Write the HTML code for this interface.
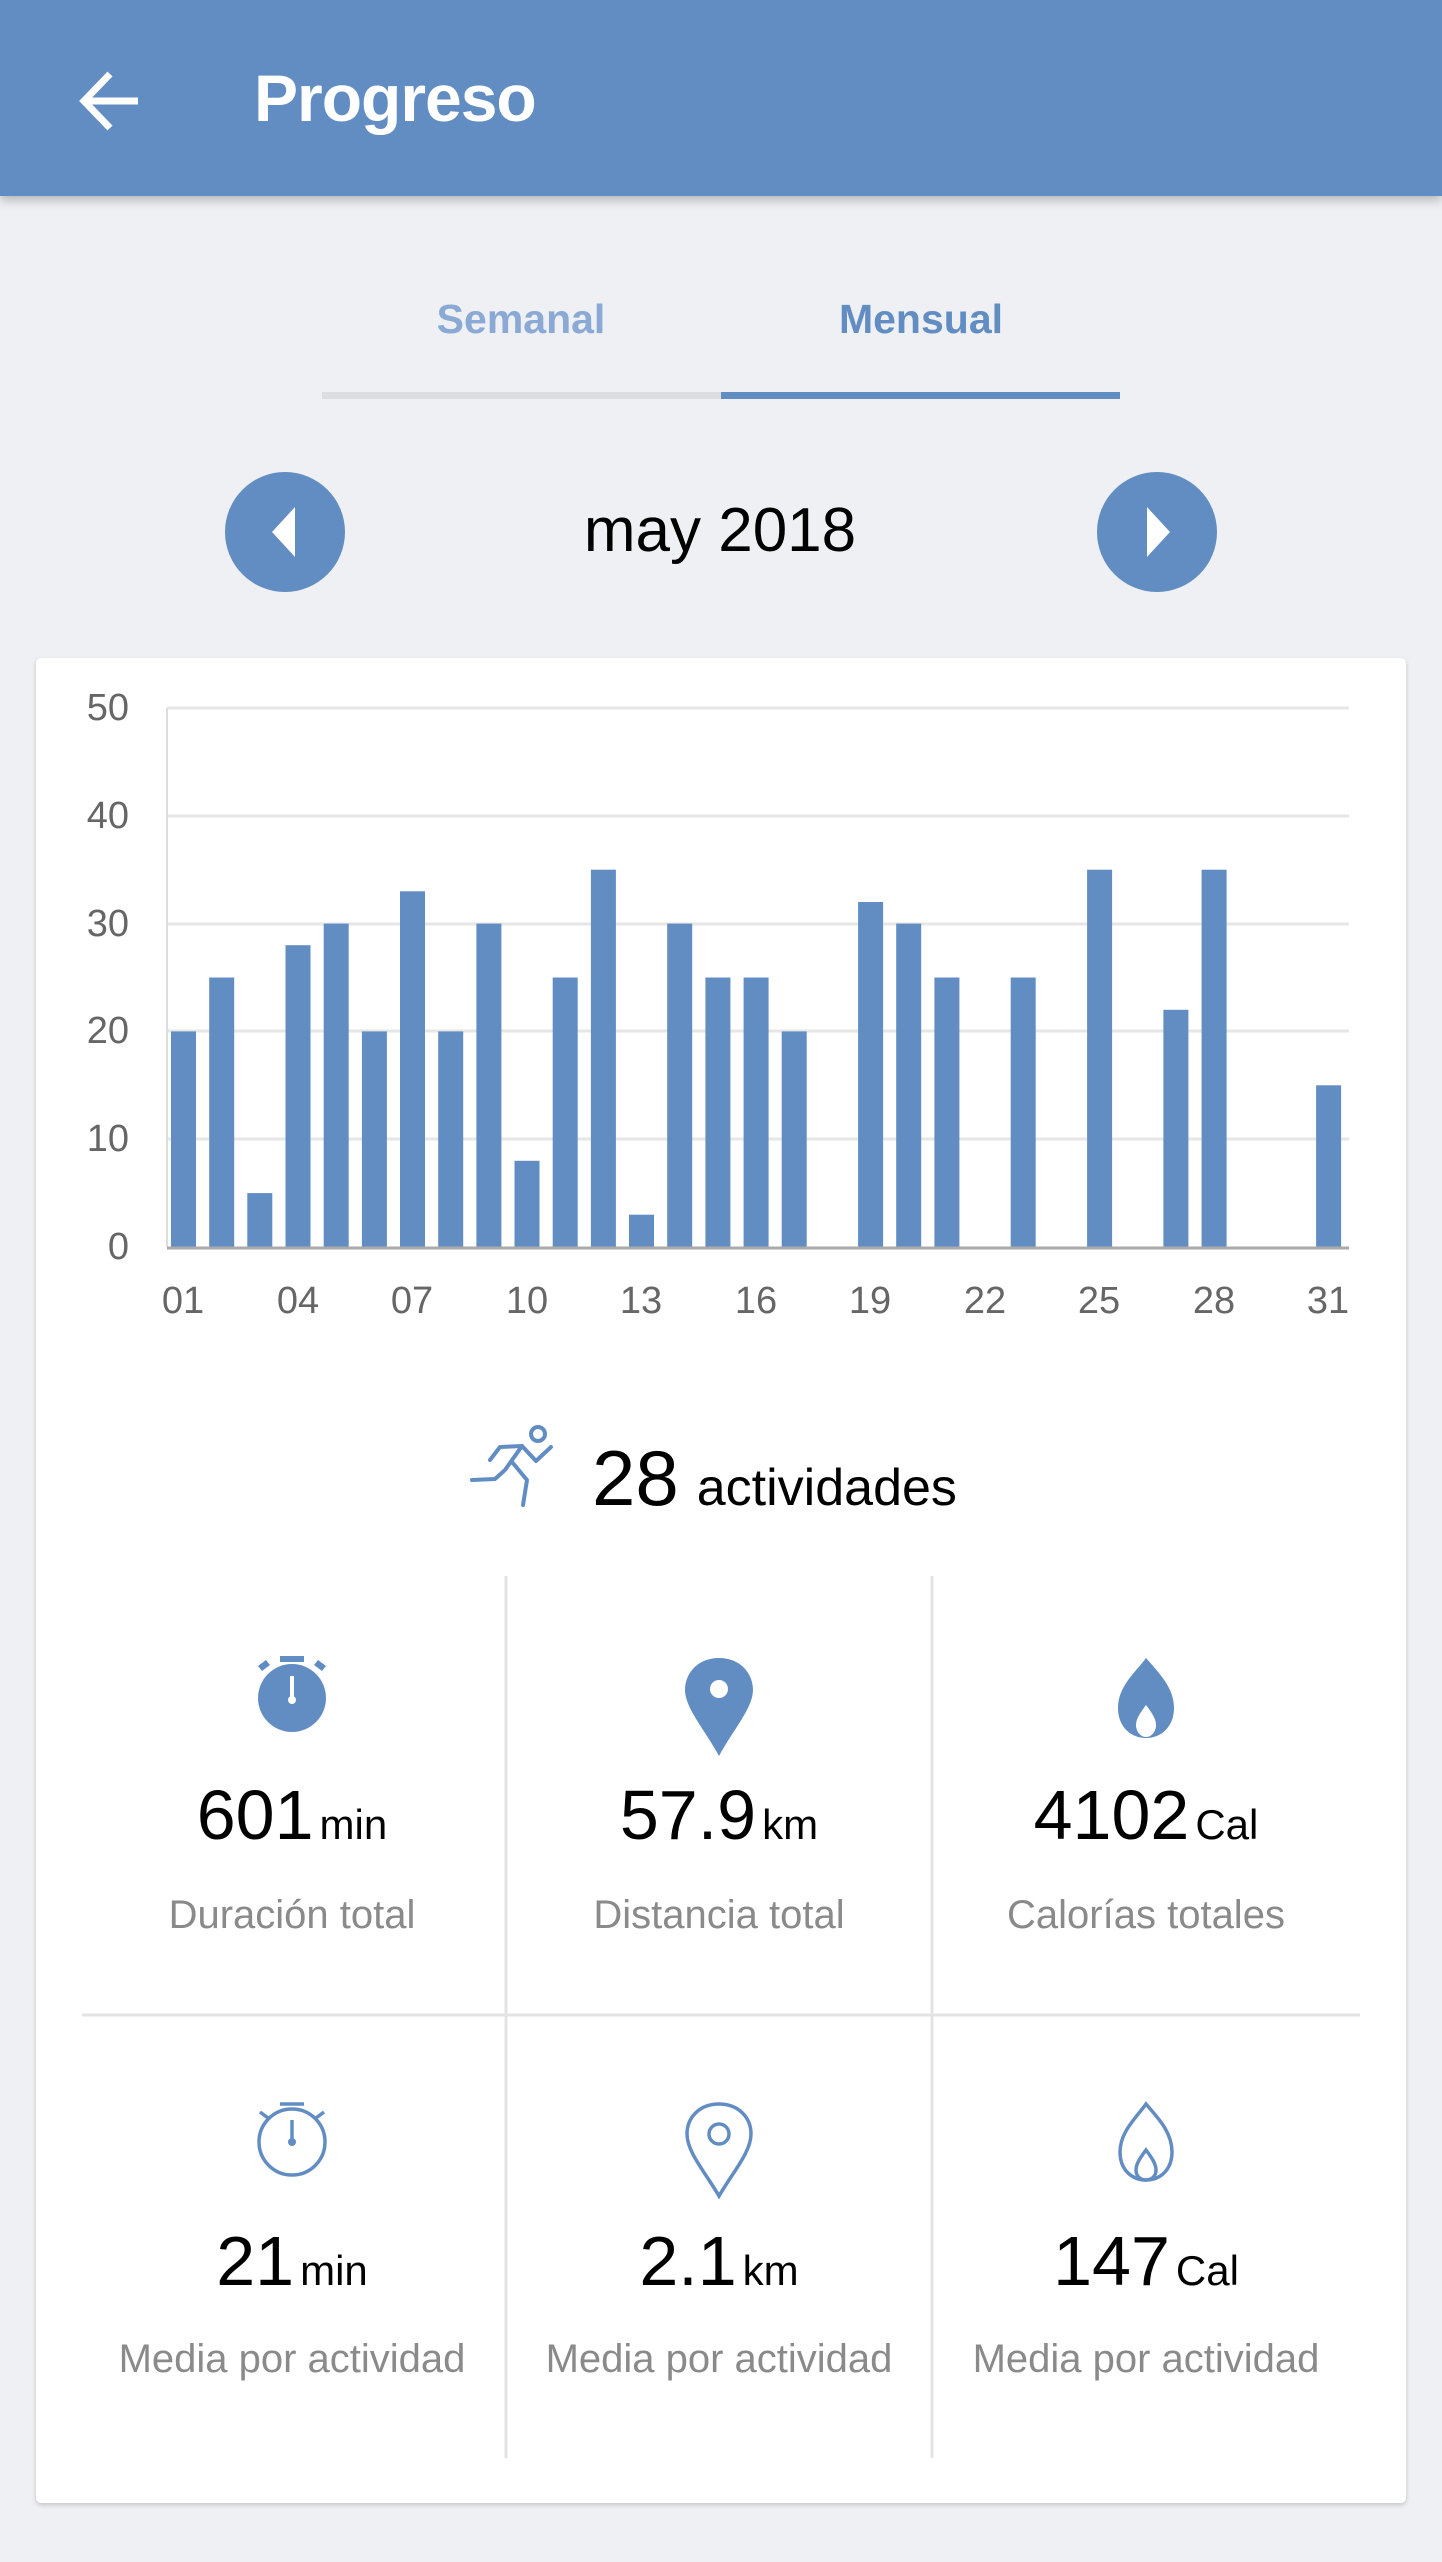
<!DOCTYPE html>
<html><head><meta charset="utf-8"><style>
body{margin:0;width:1442px;height:2562px;background:#eef0f3;position:relative;overflow:hidden;font-family:"Liberation Sans",sans-serif}
.a{position:absolute}
.hdr{left:0;top:0;width:1442px;height:196px;background:#628dc3;box-shadow:0 4px 10px rgba(0,0,0,.25)}
.card{left:36px;top:658px;width:1370px;height:1845px;background:#fff;border-radius:5px;box-shadow:0 2px 5px rgba(0,0,0,.18)}
.c{text-align:center;white-space:nowrap}
.val{font-size:70px;color:#000;line-height:1}
.val span{font-size:42px;margin-left:6px}
.lbl{font-size:40px;color:#8a8a8a;line-height:1}
</style></head><body>
<div class="a hdr"></div>
<svg class="a" style="left:0;top:0" width="1442" height="2562">
<path d="M84 101 H138 M110 74 L84 101 L110 128" stroke="#fff" stroke-width="7" fill="none"/>
<rect x="322" y="392" width="399" height="7" fill="#dcdde0"/>
<rect x="721" y="392" width="399" height="7" fill="#628dc3"/>
<circle cx="285" cy="532" r="60" fill="#628dc3"/><path d="M295 507 L272 532 L295 557Z" fill="#fff"/>
<circle cx="1157" cy="532" r="60" fill="#628dc3"/><path d="M1147 507 L1170 532 L1147 557Z" fill="#fff"/>
</svg>
<div class="a" style="left:254px;top:60px;font-size:66px;color:#fff;font-weight:bold;letter-spacing:-1px">Progreso</div>
<div class="a c" style="left:421px;width:200px;top:296px;font-size:41px;color:#8aa9d4;font-weight:bold">Semanal</div>
<div class="a c" style="left:821px;width:200px;top:296px;font-size:41px;color:#628dc3;font-weight:bold">Mensual</div>
<div class="a c" style="left:520px;width:400px;top:495px;font-size:62px;color:#000">may 2018</div>
<div class="a card"></div>
<svg class="a" style="left:0;top:0" width="1442" height="2562" font-family="Liberation Sans, sans-serif">
<g stroke="#e6e6e6" stroke-width="3">
<line x1="167" y1="708" x2="1349" y2="708"/><line x1="167" y1="816" x2="1349" y2="816"/><line x1="167" y1="924" x2="1349" y2="924"/><line x1="167" y1="1031" x2="1349" y2="1031"/><line x1="167" y1="1139" x2="1349" y2="1139"/>
</g>
<line x1="167" y1="708" x2="167" y2="1247" stroke="#ddd" stroke-width="2"/>
<g fill="#628dc3" id="bars"></g>
<line x1="167" y1="1248" x2="1349" y2="1248" stroke="#aaa" stroke-width="3"/>
<g fill="#666" font-size="38" text-anchor="end">
<text x="129" y="720">50</text><text x="129" y="828">40</text><text x="129" y="936">30</text><text x="129" y="1043">20</text><text x="129" y="1151">10</text><text x="129" y="1259">0</text>
</g>
<g fill="#666" font-size="38" text-anchor="middle">
<text x="183" y="1313">01</text><text x="298" y="1313">04</text><text x="412" y="1313">07</text><text x="527" y="1313">10</text><text x="641" y="1313">13</text><text x="756" y="1313">16</text><text x="870" y="1313">19</text><text x="985" y="1313">22</text><text x="1099" y="1313">25</text><text x="1214" y="1313">28</text><text x="1328" y="1313">31</text>
</g>
<g stroke="#628dc3" stroke-width="4" fill="none" stroke-linecap="round" stroke-linejoin="round">
<circle cx="538" cy="1434" r="7"/>
<path d="M490 1460 L500 1447 L522 1446 L536 1461 L551 1447"/>
<path d="M522 1446 L505 1470 L495 1479 L472 1480"/>
<path d="M512 1462 L527 1480 L523 1505"/>
</g>
<g stroke="#e3e3e3" stroke-width="3">
<line x1="506" y1="1576" x2="506" y2="2458"/><line x1="932" y1="1576" x2="932" y2="2458"/><line x1="82" y1="2015" x2="1360" y2="2015"/>
</g>
<g fill="#628dc3">
<circle cx="292" cy="1698" r="34"/><rect x="280" y="1656" width="24" height="6"/><path d="M258 1666 l8 -6 4 5 -8 6z M326 1666 l-8 -6 -4 5 8 6z"/>
<path d="M719 1658 c-22 0 -34 16 -34 32 c0 18 20 40 34 66 c14 -26 34 -48 34 -66 c0 -16 -12 -32 -34 -32z"/>
<path d="M1146 1658 c-10 14 -28 28 -28 50 c0 18 12 30 28 30 c16 0 28 -12 28 -30 c0 -20 -14 -34 -28 -50z"/>
</g>
<g fill="#fff"><rect x="290" y="1676" width="4" height="22"/><circle cx="292" cy="1700" r="4"/><circle cx="719" cy="1689" r="9"/><path d="M1146 1705 c-6 8 -10 14 -10 20 c0 6 4 12 10 12 c6 0 10 -6 10 -12 c0 -6 -4 -12 -10 -20z"/></g>
<g stroke="#628dc3" stroke-width="3.5" fill="none">
<circle cx="292" cy="2142" r="33"/><path d="M280 2104 h24 M292 2142 v-22 M260 2112 l8 6 M324 2112 l-8 6"/>
<path d="M719 2104 c-20 0 -32 14 -32 30 c0 18 18 38 32 62 c14 -24 32 -44 32 -62 c0 -16 -12 -30 -32 -30z"/><circle cx="719" cy="2134" r="10"/>
<path d="M1146 2104 c-10 14 -26 28 -26 48 c0 18 12 28 26 28 c14 0 26 -10 26 -28 c0 -20 -14 -34 -26 -48z"/><path d="M1146 2150 c-6 8 -10 14 -10 20 c0 6 4 10 10 10 c6 0 10 -4 10 -10 c0 -6 -4 -12 -10 -20z"/>
</g>
<circle cx="292" cy="2142" r="4" fill="#628dc3"/>
</svg>
<div class="a" style="left:592px;top:1433px;white-space:nowrap;color:#000"><span style="font-size:78px">28</span><span style="font-size:52px;margin-left:18px">actividades</span></div>
<div class="a c val" style="left:92px;width:400px;top:1780px">601<span>min</span></div>
<div class="a c val" style="left:519px;width:400px;top:1780px">57.9<span>km</span></div>
<div class="a c val" style="left:946px;width:400px;top:1780px">4102<span>Cal</span></div>
<div class="a c lbl" style="left:92px;width:400px;top:1895px">Duración total</div>
<div class="a c lbl" style="left:519px;width:400px;top:1895px">Distancia total</div>
<div class="a c lbl" style="left:946px;width:400px;top:1895px">Calorías totales</div>
<div class="a c val" style="left:92px;width:400px;top:2226px">21<span>min</span></div>
<div class="a c val" style="left:519px;width:400px;top:2226px">2.1<span>km</span></div>
<div class="a c val" style="left:946px;width:400px;top:2226px">147<span>Cal</span></div>
<div class="a c lbl" style="left:92px;width:400px;top:2339px">Media por actividad</div>
<div class="a c lbl" style="left:519px;width:400px;top:2339px">Media por actividad</div>
<div class="a c lbl" style="left:946px;width:400px;top:2339px">Media por actividad</div>
<script>
var v=[20,25,5,28,30,20,33,20,30,8,25,35,3,30,25,25,20,0,32,30,25,0,25,0,35,0,22,35,0,0,15],g=document.getElementById('bars'),s='';
v.forEach(function(d,i){if(d){var h=d*10.78;s+='<rect x="'+(171+i*38.17).toFixed(1)+'" y="'+(1247-h).toFixed(1)+'" width="25" height="'+h.toFixed(1)+'"/>';}});
g.innerHTML=s;
</script>
</body></html>
